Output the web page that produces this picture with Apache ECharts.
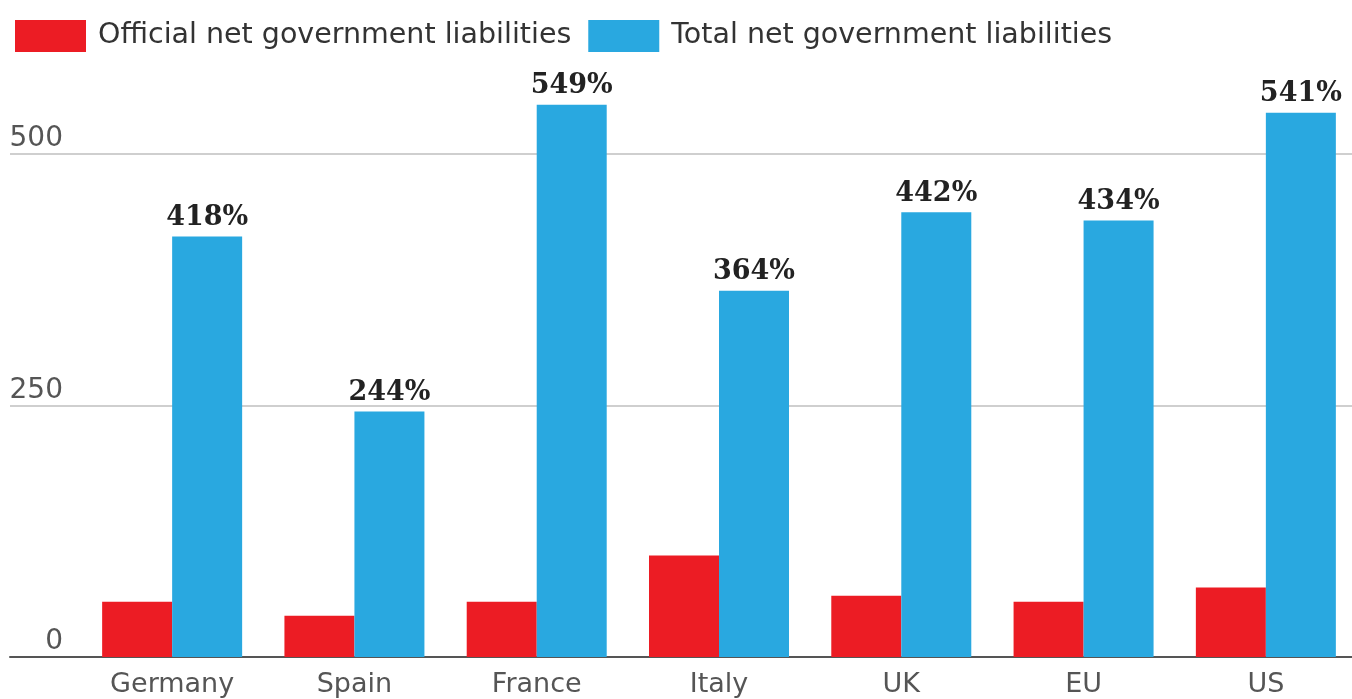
<!DOCTYPE html>
<html>
<head>
<meta charset="utf-8">
<script src="https://cdn.jsdelivr.net/npm/echarts@6/dist/echarts.min.js"></script>
<style>
html,body{margin:0;padding:0;background:#fff;overflow:hidden;}
#chart{width:1362px;height:699px;}
</style>
</head>
<body>
<div id="chart"></div>
<script>
const categories = ['Germany', 'Spain', 'France', 'Italy', 'UK', 'EU', 'US'];
const officialValues = [55, 41, 55, 101, 61, 55, 69];
const totalValues = [418, 244, 549, 364, 442, 434, 541];
const seriesNames = ['Official net government liabilities', 'Total net government liabilities'];
const yTicks = [0, 250, 500];

const chart = echarts.init(document.getElementById('chart'), null, {renderer: 'canvas'});
const sans = 'DejaVu Sans';
chart.setOption({
  animation: false,
  backgroundColor: '#ffffff',
  legend: {
    left: 10, top: 15,
    itemWidth: 71, itemHeight: 32, itemGap: 17,
    icon: 'rect',
    data: seriesNames,
    textStyle: {fontFamily: sans, fontSize: 28.5, color: '#333', padding: [0, 0, 0, 7]}
  },
  grid: [
    {left: 10, right: 10, top: 154, bottom: 42},
    {left: 81, width: 1276, top: 53.4, bottom: 42}
  ],
  xAxis: [
    {gridIndex: 0, type: 'value', min: 0, max: 1,
     axisLine: {show: true, onZero: false, lineStyle: {color: '#555', width: 2}},
     axisTick: {show: false}, axisLabel: {show: false}, splitLine: {show: false}},
    {gridIndex: 1, type: 'category', data: categories,
     axisLine: {show: false}, axisTick: {show: false},
     axisLabel: {fontFamily: sans, fontSize: 27, color: '#555', margin: 14}}
  ],
  yAxis: [
    {gridIndex: 0, type: 'value', min: yTicks[0], max: yTicks[yTicks.length - 1], interval: yTicks[1] - yTicks[0],
     axisLine: {show: false}, axisTick: {show: false},
     axisLabel: {inside: true, margin: 53, align: 'right', verticalAlign: 'bottom',
                 padding: [0, 0, 1, 0],
                 fontFamily: sans, fontSize: 28, color: '#555'},
     splitLine: {show: true, lineStyle: {color: '#cfcfcf', width: 2}}},
    {gridIndex: 1, type: 'value', min: 0, max: 600, show: false, splitLine: {show: false}}
  ],
  series: [
    {name: seriesNames[0], type: 'bar', xAxisIndex: 1, yAxisIndex: 1,
     data: officialValues, barWidth: 70, barGap: '0%',
     itemStyle: {color: '#ec1c24'}},
    {name: seriesNames[1], type: 'bar', xAxisIndex: 1, yAxisIndex: 1,
     data: totalValues, barWidth: 70, barGap: '0%',
     itemStyle: {color: '#29a8e0'},
     label: {show: true, position: 'top', distance: 5, formatter: '{c}%',
             fontFamily: 'DejaVu Serif', fontWeight: 'bold', fontSize: 27, color: '#222'}}
  ]
});
</script>
</body>
</html>
